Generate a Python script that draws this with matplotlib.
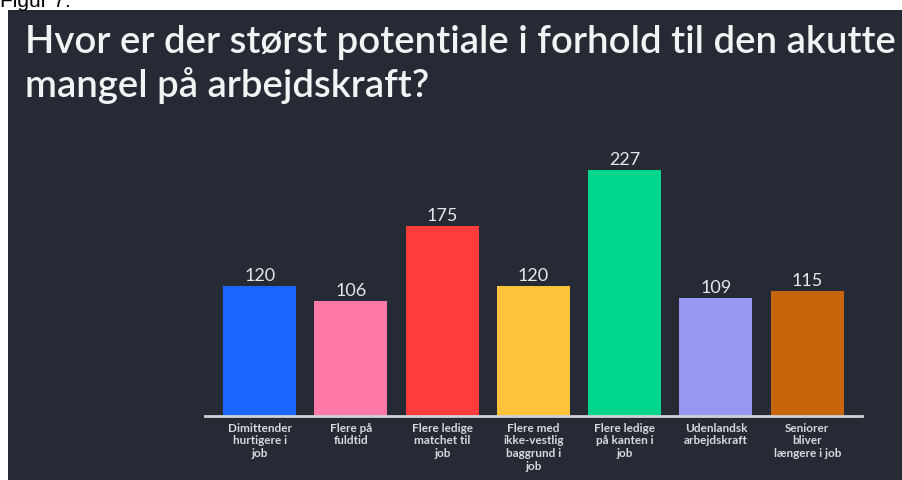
import matplotlib
matplotlib.use("Agg")
import matplotlib.pyplot as plt
from matplotlib.patches import Rectangle

categories = ["Dimittender\nhurtigere i\njob", "Flere på\nfuldtid", "Flere ledige\nmatchet til\njob",
              "Flere med\nikke-vestlig\nbaggrund i\njob", "Flere ledige\npå kanten i\njob",
              "Udenlandsk\narbejdskraft", "Seniorer\nbliver\nlængere i job"]
values = [120, 106, 175, 120, 227, 109, 115]
colors = ["#1a66ff", "#ff7aa8", "#ff3c3a", "#ffc23b", "#00d68c", "#9797f2", "#c8650c"]
title_lines = ["Hvor er der størst potentiale i forhold til den akutte", "mangel på arbejdskraft?"]

W, H = 903, 481
BG = "#252a35"
fig = plt.figure(figsize=(W / 100, H / 100), dpi=100)
fig.patch.set_facecolor("white")

fig.patches.append(Rectangle((8 / W, 0), 1 - 8 / W, 1 - 11 / H, transform=fig.transFigure,
                             facecolor=BG, edgecolor="none", zorder=-5))
fig.text(0 / W, 1 - 7 / H, "Figur 7:", fontsize=15, color="black", va="baseline", ha="left",
         family="Liberation Sans")

fam = "Lato"
t1 = fig.text(25 / W, 1 - 53 / H, title_lines[0], fontsize=24, color="#f2f3f5", va="baseline",
              ha="left", family=fam, fontweight="semibold")
fig.canvas.draw()
r = fig.canvas.get_renderer()
bb = t1.get_window_extent(r)
fs = 24 * 870 / bb.width
t1.set_fontsize(fs)
fig.text(25 / W, 1 - 97 / H, title_lines[1], fontsize=fs, color="#f2f3f5", va="baseline",
         ha="left", family=fam, fontweight="semibold")

ax = fig.add_axes([205 / W, 64 / H, 657 / W, 271 / H])
ax.set_facecolor("none")
x = list(range(len(values)))
bars = ax.bar(x, values, width=0.8, color=colors, zorder=2)
ax.set_xlim(-0.6, 6.6)
ax.set_ylim(0, 250)
for xi, v in zip(x, values):
    ax.text(xi, v + 3, str(v), ha="center", va="bottom", fontsize=13, color="#e6e7ea", family=fam)
for s in ["top", "right", "left"]:
    ax.spines[s].set_visible(False)
ax.spines["bottom"].set_color("#d0d2d6")
ax.spines["bottom"].set_linewidth(2)
ax.set_yticks([])
ax.set_xticks(x)
ax.set_xticklabels(categories, fontsize=8.5, color="#d8d9dc", family=fam, fontweight="bold",
                   linespacing=1.2)
ax.tick_params(axis="x", length=0, pad=4)

fig.savefig("out.png", dpi=100, facecolor=fig.get_facecolor())
